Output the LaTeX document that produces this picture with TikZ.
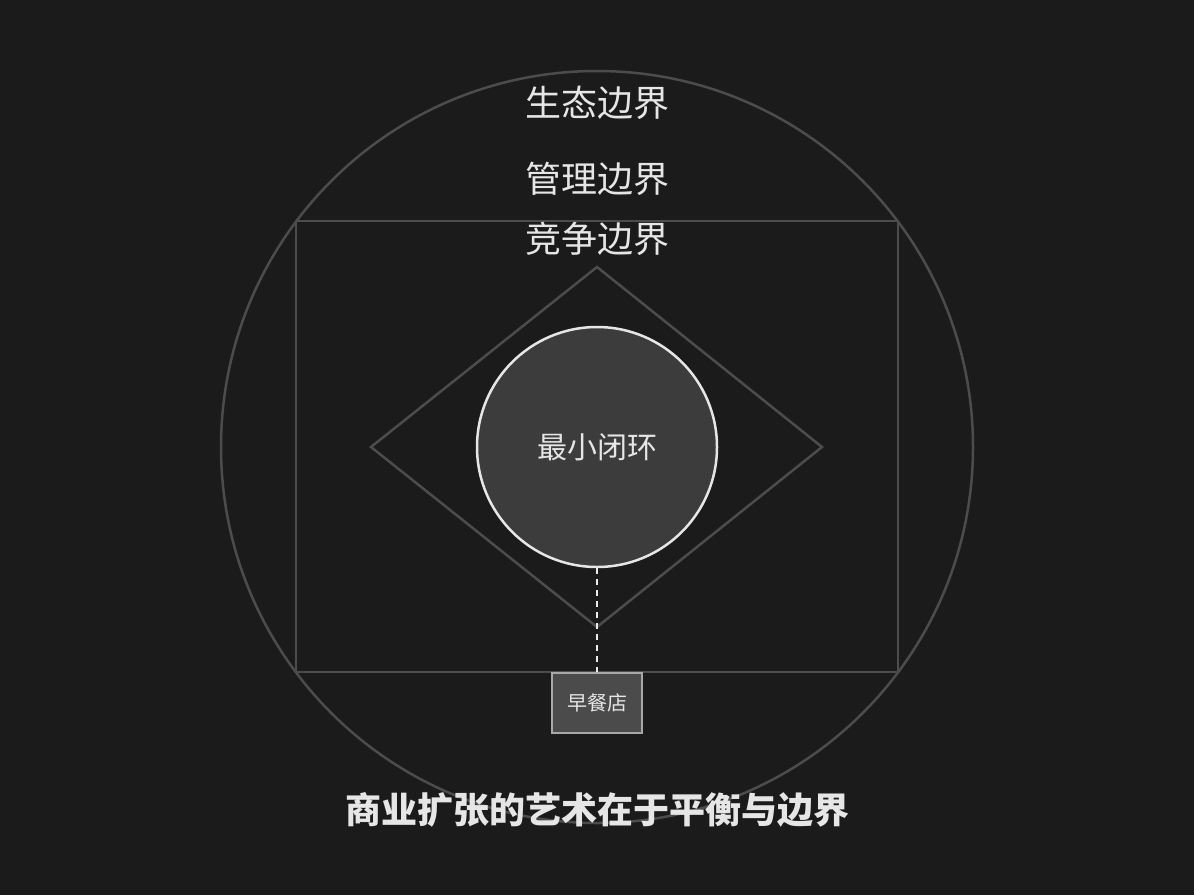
\documentclass[tikz,border=0pt]{standalone}
\usepackage{fontspec}
\setmainfont{Noto Sans CJK SC}
\usetikzlibrary{shapes.geometric}
\usetikzlibrary{positioning}
\definecolor{bgdark}{HTML}{1B1B1B}
\definecolor{edgegray}{HTML}{4C4C4C}
\definecolor{corefill}{HTML}{3C3C3C}
\definecolor{textlight}{HTML}{E6E6E6}
\definecolor{boxfill}{HTML}{4B4B4B}
\definecolor{boxedge}{HTML}{A8A8A8}

\begin{document}
\begin{tikzpicture}[x=1pt,y=-1pt]
\tikzset{boundary/.style={draw=edgegray,line width=2.5pt},
  bound label/.style={text=textlight,font=\fontsize{36}{40}\selectfont,inner sep=0pt},
  core/.style={circle,draw=textlight,fill=corefill,line width=2.5pt,minimum size=240pt,inner sep=0pt,text=textlight,font=\fontsize{30}{34}\selectfont},
  shopbox/.style={rectangle,draw=boxedge,fill=boxfill,line width=1.2pt,minimum width=90pt,minimum height=60pt,inner sep=0pt,text=textlight,font=\fontsize{20}{24}\selectfont}}
\fill[bgdark](0,0) rectangle (1194,895);
\useasboundingbox (0,0) rectangle (1194,895);
% boundaries
\draw[boundary](597,447) circle (376pt);
\draw[boundary](296,221) rectangle (898,672);
\draw[boundary](597,267) -- (822,447) -- (597,627) -- (371,447) -- cycle;
\node[core](loop) at (597,447) {最小闭环};
\node[shopbox](shop) at (597,703) {早餐店};
\draw[draw=textlight!80,line width=1.5pt,dash pattern=on 6pt off 5pt](loop.south) -- (shop.north);
% labels
\node[bound label](eco) at (597,103) {生态边界};
\node[bound label](mgmt) at (597,179) {管理边界};
\node[bound label](comp) at (597,239) {竞争边界};
\node[text=textlight,font=\fontsize{36}{40}\selectfont\bfseries](title) at (597,810) {商业扩张的艺术在于平衡与边界};
\end{tikzpicture}
\end{document}
